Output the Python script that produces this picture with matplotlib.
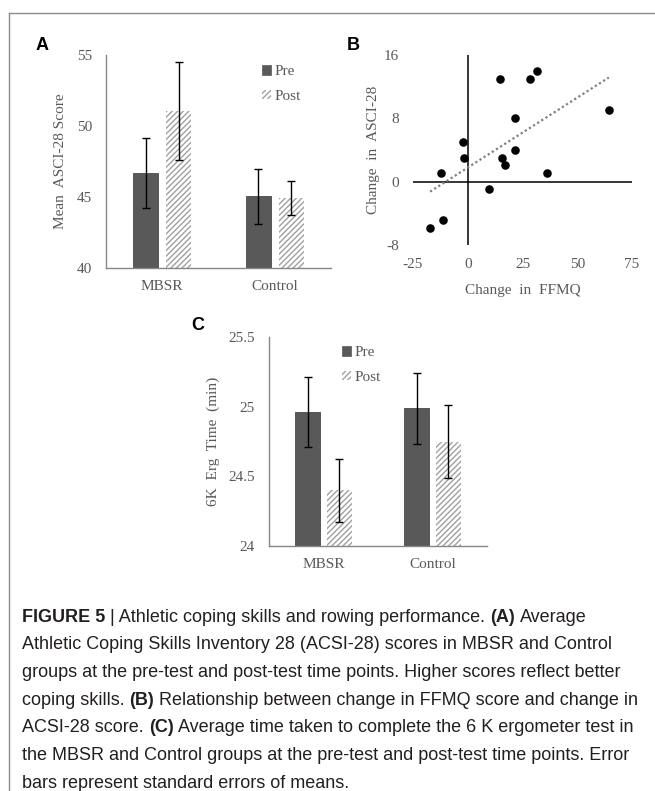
import numpy as np
import matplotlib
matplotlib.use("Agg")
import matplotlib.pyplot as plt
from matplotlib.patches import Patch
from matplotlib.lines import Line2D

# ---------------- data ----------------
groups = ["MBSR", "Control"]
series = ["Pre", "Post"]

acsi_pre = [46.7, 45.05]
acsi_pre_se = [2.45, 1.95]
acsi_post = [51.05, 44.95]
acsi_post_se = [3.45, 1.2]
acsi_ticks = [40, 45, 50, 55]

ffmq_change = [14.6, 28.4, 31.4, 64.4, 21.8, -2.3, -1.5, 15.8, 21.8, 16.9, -12.0, 36.3, 9.5, -11.2, -17.2]
acsi_change = [13.0, 13.0, 14.0, 9.05, 8.0, 5.05, 3.05, 3.05, 4.05, 2.1, 1.1, 1.1, -0.9, -4.85, -5.85]
ffmq_ticks = [-25, 0, 25, 50, 75]
change_ticks = [-8, 0, 8, 16]

erg_pre = [24.96, 24.99]
erg_pre_se = [0.25, 0.255]
erg_post = [24.40, 24.75]
erg_post_se = [0.225, 0.265]
erg_ticks = [24, 24.5, 25, 25.5]
erg_ticklabels = ["24", "24.5", "25", "25.5"]

caption_lines = [
    [("FIGURE 5", True), ("| Athletic coping skills and rowing performance.", False), ("(A)", True), ("Average", False)],
    [("Athletic Coping Skills Inventory 28 (ACSI-28) scores in MBSR and Control", False)],
    [("groups at the pre-test and post-test time points. Higher scores reflect better", False)],
    [("coping skills.", False), ("(B)", True), ("Relationship between change in FFMQ score and change in", False)],
    [("ACSI-28 score.", False), ("(C)", True), ("Average time taken to complete the 6 K ergometer test in", False)],
    [("the MBSR and Control groups at the pre-test and post-test time points. Error", False)],
    [("bars represent standard errors of means.", False)],
]

# ---------------- style ----------------
W, H = 655, 791
fig = plt.figure(figsize=(W / 100, H / 100), dpi=100)
SERIF = ["Liberation Serif", "DejaVu Serif"]
TXT = "#595959"
AX = "#868686"
PRE_C = "#595959"
HATCH_C = "#a0a0a0"
plt.rcParams["hatch.linewidth"] = 1.0


def px_axes(left, top, right, bottom):
    return fig.add_axes([left / W, 1 - bottom / H, (right - left) / W, (bottom - top) / H])


def bar_panel(ax, pre, pre_se, post, post_se, ylim, yticks, yticklabels, ylabel, labelpad):
    x = np.arange(len(groups))
    w, off = 0.224, 0.146
    ax.bar(x - off, pre, w, color=PRE_C, edgecolor="#4a4a4a", linewidth=0.6, zorder=2)
    ax.bar(x + off, post, w, color="white", edgecolor=HATCH_C, hatch="//////", linewidth=0, zorder=2)
    ax.errorbar(x - off, pre, yerr=pre_se, fmt="none", ecolor="black", elinewidth=1.0, capsize=3, capthick=1.0, zorder=3)
    ax.errorbar(x + off, post, yerr=post_se, fmt="none", ecolor="black", elinewidth=1.0, capsize=3, capthick=1.0, zorder=3)
    ax.set_xlim(-0.5, 1.5)
    ax.set_ylim(*ylim)
    ax.set_xticks(x)
    ax.set_xticklabels(groups, family=SERIF, fontsize=11, color=TXT)
    ax.set_yticks(yticks)
    ax.set_yticklabels(yticklabels, family=SERIF, fontsize=11, color=TXT)
    ax.tick_params(axis="both", length=0)
    ax.tick_params(axis="y", pad=10)
    ax.tick_params(axis="x", pad=9)
    for s in ["top", "right"]:
        ax.spines[s].set_visible(False)
    for s in ["left", "bottom"]:
        ax.spines[s].set_color(AX)
        ax.spines[s].set_linewidth(1.0)
    ax.set_ylabel(ylabel, family=SERIF, fontsize=11, color=TXT, labelpad=labelpad)


def legend_at(x, y):
    handles = [Patch(facecolor=PRE_C, edgecolor=PRE_C, linewidth=0.5),
               Patch(facecolor="white", edgecolor=HATCH_C, hatch="//////", linewidth=0)]
    fig.legend(handles, series, loc="upper left", bbox_to_anchor=(x / W, 1 - y / H),
               frameon=False, prop={"family": SERIF, "size": 11}, labelcolor=TXT,
               handlelength=0.6, handleheight=0.6, handletextpad=0.2, labelspacing=0.75,
               borderpad=0, borderaxespad=0)


# ---------------- panel A ----------------
axA = px_axes(106, 55, 331, 268)
bar_panel(axA, acsi_pre, acsi_pre_se, acsi_post, acsi_post_se, (40, 55), acsi_ticks,
          [str(t) for t in acsi_ticks], "Mean  ASCI-28 Score", 7)
legend_at(262, 65)

# ---------------- panel B ----------------
axB = px_axes(413, 55, 632, 245)
axB.scatter(ffmq_change, acsi_change, s=38, color="black", zorder=3, linewidths=0)
slope, intercept = np.polyfit(ffmq_change, acsi_change, 1)
xs = np.array([min(ffmq_change), max(ffmq_change)])
axB.plot(xs, slope * xs + intercept, linestyle=(0, (1, 1.2)), color="#7f7f7f", linewidth=1.6, zorder=2)
axB.axhline(0, color="black", linewidth=1.1, zorder=1)
axB.axvline(0, color="black", linewidth=1.1, zorder=1)
axB.set_xlim(-25, 75)
axB.set_ylim(-8, 16)
axB.set_xticks(ffmq_ticks)
axB.set_xticklabels([str(t) for t in ffmq_ticks], family=SERIF, fontsize=11, color=TXT)
axB.set_yticks(change_ticks)
axB.set_yticklabels([str(t) for t in change_ticks], family=SERIF, fontsize=11, color=TXT)
axB.tick_params(axis="both", length=0)
axB.tick_params(axis="y", pad=10)
axB.tick_params(axis="x", pad=9)
for s in axB.spines.values():
    s.set_visible(False)
axB.set_xlabel("Change  in  FFMQ", family=SERIF, fontsize=11, color=TXT, labelpad=10)
axB.set_ylabel("Change  in  ASCI-28", family=SERIF, fontsize=11, color=TXT, labelpad=3)

# ---------------- panel C ----------------
axC = px_axes(269, 337, 487, 546)
bar_panel(axC, erg_pre, erg_pre_se, erg_post, erg_post_se, (24, 25.5), erg_ticks,
          erg_ticklabels, "6K  Erg  Time  (min)", 6)
legend_at(342, 346)

# ---------------- panel letters ----------------
for lab, x, y in [("A", 42, 46), ("B", 353, 45), ("C", 198, 325)]:
    fig.text(x / W, 1 - y / H, lab, ha="center", va="center", fontsize=13,
             fontweight="bold", family=["Liberation Sans", "DejaVu Sans"], color="black")

# ---------------- frame ----------------
fig.add_artist(Line2D([9 / W, 9 / W], [0, 1 - 13 / H], transform=fig.transFigure, color="#8c8c8c", linewidth=1.0))
fig.add_artist(Line2D([9 / W, 1], [1 - 13 / H, 1 - 13 / H], transform=fig.transFigure, color="#8c8c8c", linewidth=1.0))

# ---------------- caption ----------------
CAP_FAM = ["Liberation Sans", "DejaVu Sans"]
CAP_SIZE = 13.0
CAP_C = "#231f20"
renderer = fig.canvas.get_renderer()


def text_width(s, bold):
    t = fig.text(0, 0, s, fontsize=CAP_SIZE, family=CAP_FAM, fontweight="bold" if bold else "normal")
    wdt = t.get_window_extent(renderer).width
    t.remove()
    return wdt


space_w = text_width("x x", False) - text_width("xx", False)
x0 = 22
y_first = 617
for i, segs in enumerate(caption_lines):
    x = x0
    y = y_first + i * 27.7
    for s, bold in segs:
        t = fig.text(x / W, 1 - y / H, s, fontsize=CAP_SIZE, family=CAP_FAM,
                     fontweight="bold" if bold else "normal", color=CAP_C, va="center", ha="left")
        x += t.get_window_extent(renderer).width + space_w

fig.savefig("out.png", dpi=100)
